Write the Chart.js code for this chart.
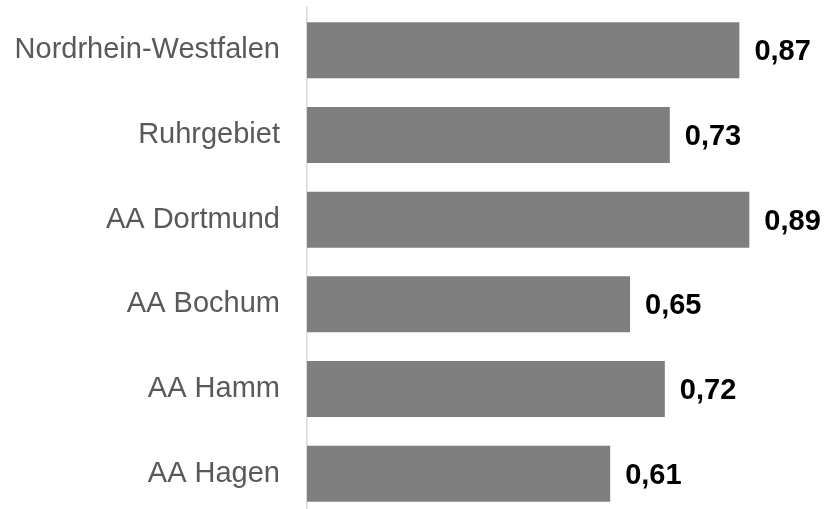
<!DOCTYPE html>
<html>
<head>
<meta charset="utf-8">
<script src="https://cdn.jsdelivr.net/npm/chart.js@4/dist/chart.umd.min.js"></script>
<style>
html,body{margin:0;padding:0;background:#fff;overflow:hidden;}
#wrap{width:825px;height:509px;position:relative;overflow:hidden;}
</style>
</head>
<body>
<div id="wrap"><canvas id="c" width="825" height="516"></canvas></div>
<script>
const categories = ["Nordrhein-Westfalen", "Ruhrgebiet", "AA Dortmund", "AA Bochum", "AA Hamm", "AA Hagen"];
const values = [0.87, 0.73, 0.89, 0.65, 0.72, 0.61];
const axisMin = 0;
const axisMax = 1;

const valueLabels = {
  id: 'valueLabels',
  afterDatasetsDraw(chart) {
    const ctx = chart.ctx;
    const meta = chart.getDatasetMeta(0);
    ctx.save();
    ctx.font = 'bold 29px "Liberation Sans", Arial, sans-serif';
    ctx.fillStyle = '#000000';
    ctx.textAlign = 'left';
    ctx.textBaseline = 'middle';
    meta.data.forEach((bar, i) => {
      const txt = values[i].toFixed(2).replace('.', ',');
      ctx.fillText(txt, bar.x + 15, bar.y + 2);
    });
    ctx.restore();
  }
};

new Chart(document.getElementById('c'), {
  type: 'bar',
  data: {
    labels: categories,
    datasets: [{
      data: values,
      backgroundColor: '#7f7f7f',
      borderWidth: 0,
      categoryPercentage: 1,
      barPercentage: 0.661
    }]
  },
  options: {
    indexAxis: 'y',
    responsive: false,
    animation: false,
    layout: { padding: { left: 13, right: 21, top: 8, bottom: 0 } },
    plugins: { legend: { display: false }, tooltip: { enabled: false } },
    scales: {
      x: { display: false, min: axisMin, max: axisMax },
      y: {
        grid: { display: true, drawOnChartArea: false, drawTicks: false, color: 'rgba(0,0,0,0)' },
        border: { display: true, color: '#d9d9d9', width: 1.5 },
        ticks: {
          padding: 27,
          color: '#595959',
          font: { family: '"Liberation Sans", Arial, sans-serif', size: 29 }
        },
        afterFit(scale) {
          scale.width = 294;
          scale.paddingTop = 0;
          scale.paddingBottom = 0;
        }
      }
    }
  },
  plugins: [valueLabels]
});
</script>
</body>
</html>
